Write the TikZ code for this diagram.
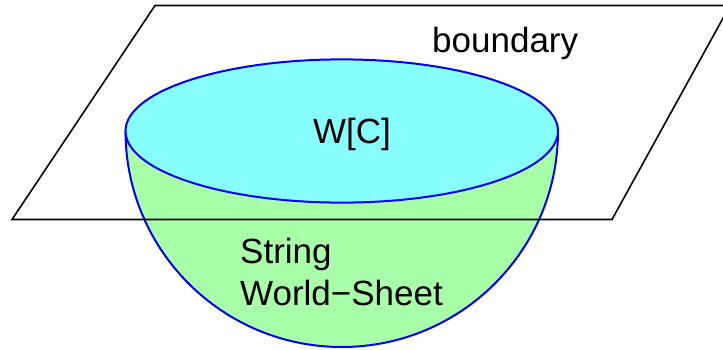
\documentclass[tikz,border=0pt]{standalone}
\usepackage{fontspec}
\setmainfont{Liberation Sans}
\definecolor{topcyan}{RGB}{136,255,255}
\definecolor{sheetgreen}{RGB}{168,255,168}
\begin{document}
\begin{tikzpicture}[x=1pt,y=-1pt,
  rim/.style={draw=blue,line width=2pt},
  plane/.style={draw=black,line width=1.6pt,line join=miter},
  lbl/.style={anchor=base west,inner sep=0pt,font=\fontsize{35}{42}\selectfont}]
\useasboundingbox (0,0) rectangle (723,349);
% bowl (world-sheet)
\path[rim,fill=sheetgreen] (125.5,131) arc[start angle=180,end angle=360,x radius=216.25,y radius=-216];
% top ellipse (W[C])
\path[rim,fill=topcyan] (341.75,131) ellipse[x radius=216.25,y radius=71.6];
% boundary plane
\coordinate (bl) at (12,219.5);
\coordinate (br) at (612,219.5);
\coordinate (tr) at (730,5.5);
\coordinate (tl) at (155,5.5);
\draw[plane] (bl) -- (br) -- (tr) -- (tl) -- cycle;
% labels
\node[lbl] (bd) at (432,52.5) {boundary};
\node[lbl] (wc) at (313,143) {W[C]};
\node[lbl] (s1) at (240,263) {String};
\node[lbl] (s2) at (240,305) {World−Sheet};
\end{tikzpicture}
\end{document}
